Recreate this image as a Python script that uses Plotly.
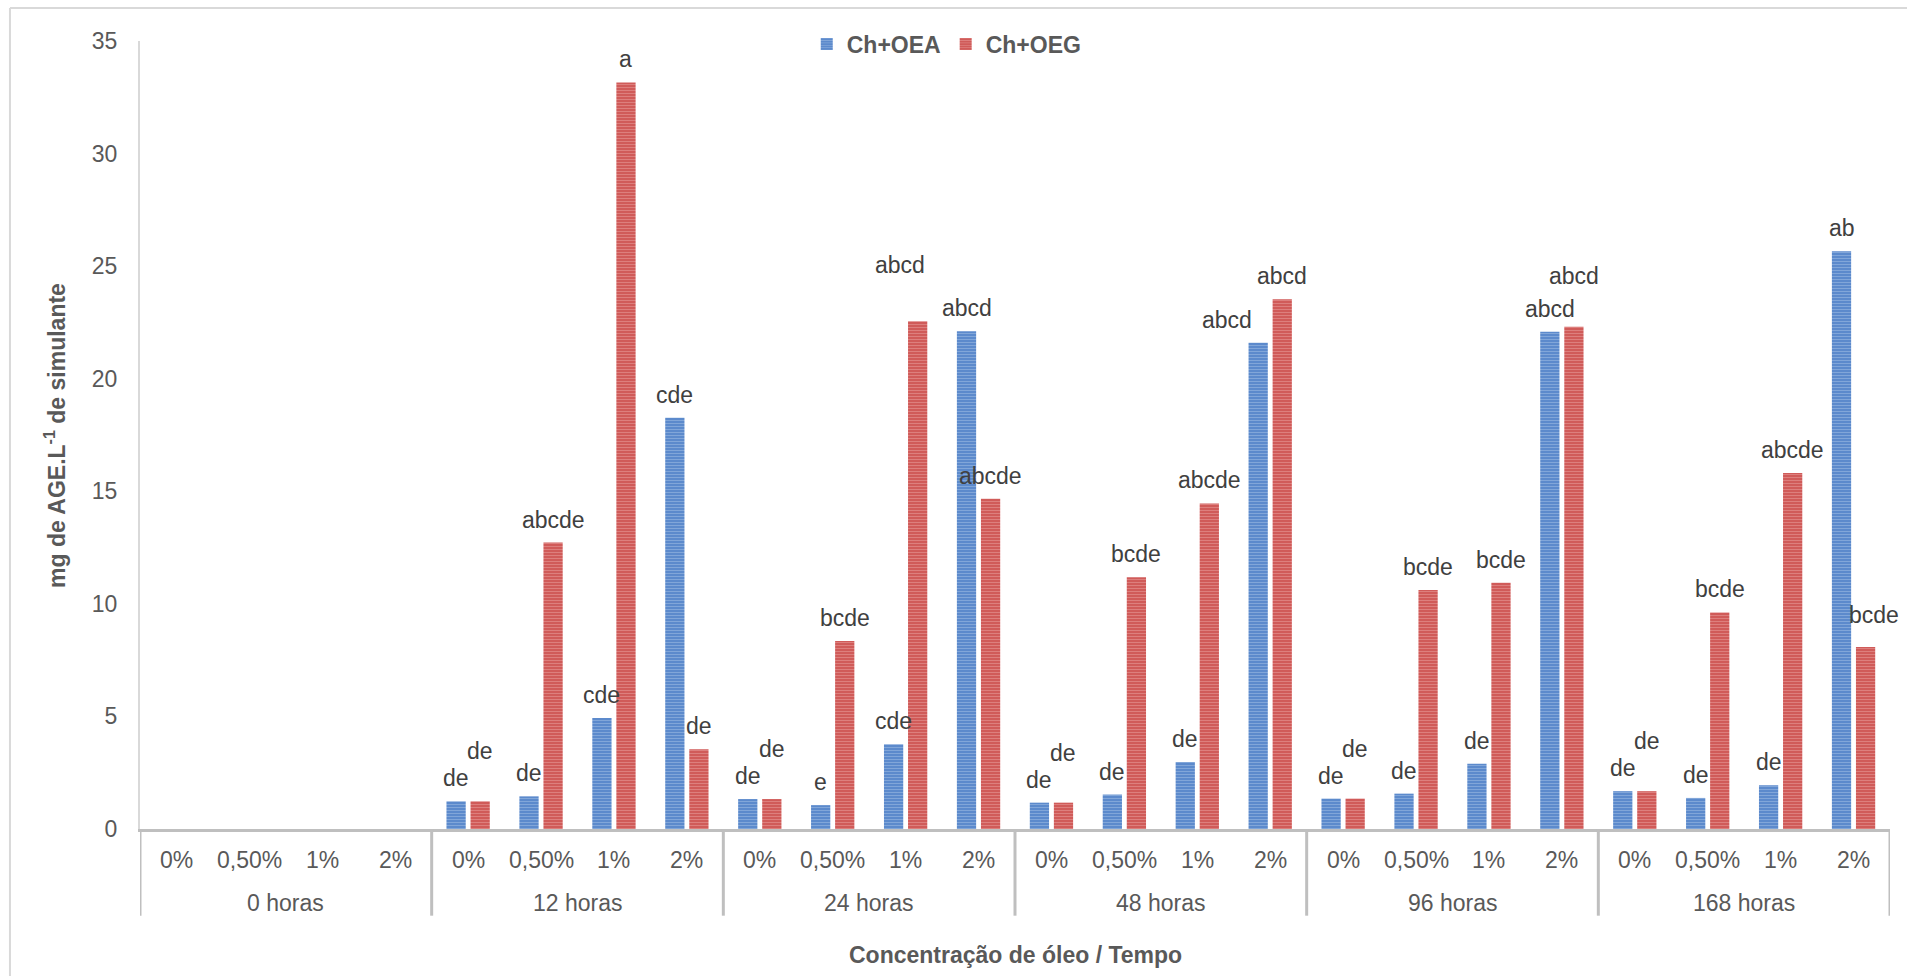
import plotly.graph_objects as go

# Categories
concentracoes = ["0%", "0,50%", "1%", "2%"]
tempos = ["0 horas", "12 horas", "24 horas", "48 horas", "96 horas", "168 horas"]

# mg de AGE.L-1 de simulante (no data at 0 horas)
ch_oea = [None, None, None, None,
          1.23, 1.45, 4.93, 18.27,
          1.33, 1.06, 3.76, 22.11,
          1.17, 1.53, 2.98, 21.60,
          1.35, 1.57, 2.90, 22.09,
          1.68, 1.38, 1.94, 25.66]
ch_oeg = [None, None, None, None,
          1.23, 12.72, 33.16, 3.54,
          1.33, 8.35, 22.55, 14.67,
          1.17, 11.18, 14.46, 23.53,
          1.35, 10.62, 10.94, 22.31,
          1.68, 9.62, 15.81, 8.08]

# Statistical letters
letras_oea = ["", "", "", "",
              "de", "de", "cde", "cde",
              "de", "e", "cde", "abcd",
              "de", "de", "de", "abcd",
              "de", "de", "de", "abcd",
              "de", "de", "de", "ab"]
letras_oeg = ["", "", "", "",
              "de", "abcde", "a", "de",
              "de", "bcde", "abcd", "abcde",
              "de", "bcde", "abcde", "abcd",
              "de", "bcde", "bcde", "abcd",
              "de", "bcde", "abcde", "bcde"]

# Label nudges (pixels) to keep letters from colliding: index -> (dx, dy)
nudge_oea = {15: (-31, 0)}
nudge_oeg = {4: (0, 27), 8: (0, 27), 12: (0, 27), 16: (0, 27), 20: (0, 27),
             10: (-18, 33), 19: (0, 28), 23: (8, 9)}

FONT = "Liberation Sans, Arial, sans-serif"
n = len(concentracoes) * len(tempos)
idx = list(range(n))

BLUE_BG, BLUE_FG = "#4f81c7", "#b4cbec"
RED_BG, RED_FG = "#cc4f4d", "#eeb0ae"

fig = go.Figure()
fig.add_trace(go.Bar(
    x=idx, y=ch_oea, name="Ch+OEA",
    marker=dict(color=BLUE_BG, line=dict(width=0),
                pattern=dict(shape="-", bgcolor=BLUE_BG, fgcolor=BLUE_FG,
                             size=3, solidity=0.5)),
))
fig.add_trace(go.Bar(
    x=idx, y=ch_oeg, name="Ch+OEG",
    marker=dict(color=RED_BG, line=dict(width=0),
                pattern=dict(shape="-", bgcolor=RED_BG, fgcolor=RED_FG,
                             size=3, solidity=0.5)),
))

OFF = 0.165
annotations = []
for vals, labs, nud, sgn in ((ch_oea, letras_oea, nudge_oea, -1),
                              (ch_oeg, letras_oeg, nudge_oeg, 1)):
    for i in idx:
        if vals[i] is None or not labs[i]:
            continue
        dx, dy = nud.get(i, (0, 0))
        annotations.append(dict(
            x=i + sgn * OFF, y=vals[i], xref="x", yref="y",
            text=labs[i], showarrow=False, yanchor="middle",
            xshift=dx, yshift=23 + dy,
            font=dict(family=FONT, size=23, color="#404040")))

# Two-level category labels below the axis
for i in idx:
    annotations.append(dict(
        x=i, y=-0.039, xref="x", yref="paper", text=concentracoes[i % 4],
        showarrow=False, yanchor="middle",
        font=dict(family=FONT, size=23, color="#595959")))
for g, t in enumerate(tempos):
    annotations.append(dict(
        x=4 * g + 1.5, y=-0.0935, xref="x", yref="paper", text=t,
        showarrow=False, yanchor="middle",
        font=dict(family=FONT, size=23, color="#595959")))

# Axis titles
annotations.append(dict(
    x=0.5, y=-0.160, xref="paper", yref="paper",
    text="<b>Concentração de óleo / Tempo</b>", showarrow=False,
    yanchor="middle", font=dict(family=FONT, size=23, color="#595959")))
annotations.append(dict(
    x=-0.0486, y=0.5, xref="paper", yref="paper", textangle=-90,
    text="<b>mg de AGE.L<sup>-1</sup> de simulante</b>", showarrow=False,
    xanchor="center", yanchor="middle",
    font=dict(family=FONT, size=23, color="#595959")))

shapes = []
for g in range(len(tempos) + 1):
    xb = 4 * g - 0.5
    shapes.append(dict(type="line", xref="x", yref="paper", x0=xb, x1=xb,
                       y0=0, y1=-0.110, line=dict(color="#bfbfbf", width=3)))
# Chart frame
shapes.append(dict(type="line", xref="paper", yref="paper",
                   x0=-0.0743, x1=-0.0743, y0=1.0419, y1=-0.2,
                   line=dict(color="#d9d9d9", width=2)))
shapes.append(dict(type="line", xref="paper", yref="paper",
                   x0=-0.0743, x1=1.02, y0=1.0419, y1=1.0419,
                   line=dict(color="#d9d9d9", width=2)))

fig.update_layout(
    width=1907, height=976,
    margin=dict(l=140, r=17, t=41, b=147),
    paper_bgcolor="white", plot_bgcolor="white",
    barmode="group", bargap=0.34, bargroupgap=0.2,
    font=dict(family=FONT, size=23, color="#595959"),
    showlegend=True,
    legend=dict(orientation="h", x=0.381, xanchor="left", y=0.996,
                yanchor="middle", font=dict(family=FONT, size=23,
                                            color="#595959", weight="bold"),
                bgcolor="rgba(0,0,0,0)", itemwidth=30, tracegroupgap=0),
    annotations=annotations,
    shapes=shapes,
)
fig.update_xaxes(range=[-0.5, n - 0.5], showticklabels=False, ticks="",
                 showgrid=False, zeroline=False, showline=True,
                 linecolor="#bfbfbf", linewidth=3)
fig.update_yaxes(range=[0, 35], dtick=5, showgrid=False, zeroline=False,
                 showline=True, linecolor="#d9d9d9", linewidth=2, ticks="",
                 ticklabelstandoff=16,
                 tickfont=dict(family=FONT, size=23, color="#595959"))

fig.write_html("out.html")
